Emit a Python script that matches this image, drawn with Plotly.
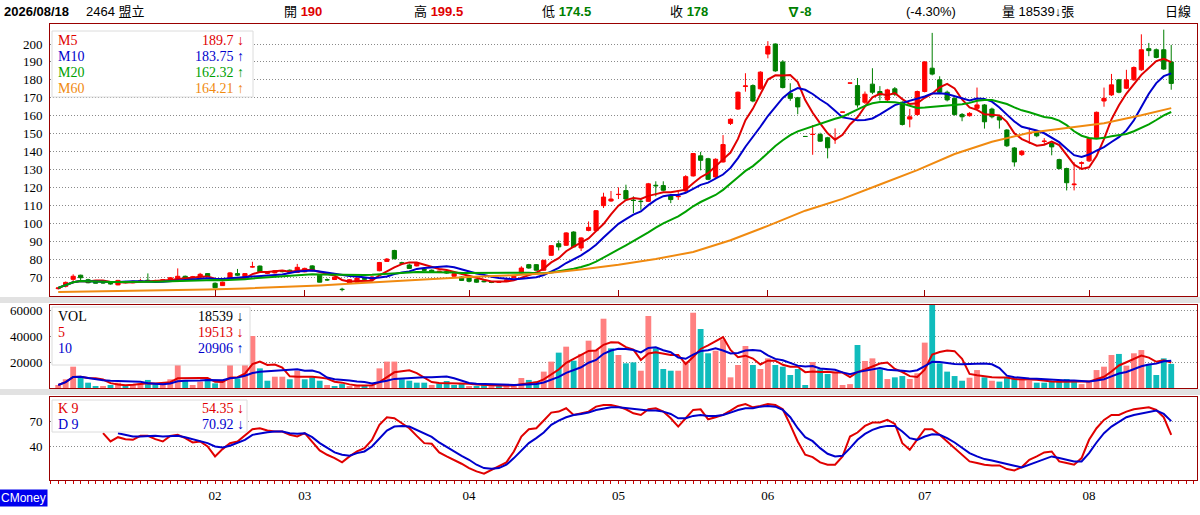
import pandas as pd
import plotly.graph_objects as go

# 2464 盟立 日線 2026/01/02 ~ 2026/08/18 (day index 0..149)
opens = [
    63.5, 64.8, 68.7, 71.0, 68.5, 67.0, 67.0, 66.5, 65.6, 67.5,
    66.8, 67.6, 68.2, 68.0, 68.2, 68.1, 69.0, 70.4, 69.5, 70.0,
    71.9, 66.5, 65.2, 69.6, 71.9, 70.0, 75.6, 76.1, 72.0, 72.3,
    73.3, 73.8, 72.5, 72.9, 76.2, 71.0, 68.5, 68.6, 63.2, 66.5,
    67.1, 69.2, 68.6, 73.5, 78.7, 84.8, 77.9, 76.7, 76.2, 74.2,
    73.8, 72.8, 73.0, 70.4, 70.0, 69.5, 68.6, 67.8, 67.3, 67.0,
    68.0, 69.6, 72.3, 76.9, 76.9, 73.8, 82.1, 88.6, 87.7, 95.1,
    86.2, 96.0, 95.9, 109.8, 112.4, 116.0, 118.2, 112.9, 112.3, 112.2,
    121.2, 121.0, 115.4, 114.8, 118.0, 126.4, 137.6, 136.0, 125.8, 134.2,
    155.7, 163.7, 176.3, 176.8, 175.0, 194.4, 200.0, 190.0, 172.5, 170.0,
    148.4, 149.5, 149.5, 147.7, 147.0, 162.0, 178.2, 176.8, 167.5, 177.6,
    173.5, 168.8, 175.0, 167.5, 158.1, 160.7, 173.5, 186.5, 180.0, 173.1,
    169.7, 160.7, 160.0, 164.1, 166.0, 163.7, 159.4, 152.0, 142.0, 138.3,
    150.0, 150.7, 145.6, 144.5, 135.5, 130.5, 121.5, 133.4, 134.8, 147.7,
    168.2, 171.6, 180.0, 175.3, 180.0, 185.6, 197.4, 196.8, 196.8, 190.0,
]
highs = [
    64.3, 67.5, 71.5, 71.3, 69.0, 67.8, 67.4, 66.8, 68.4, 67.8,
    68.0, 69.0, 72.0, 68.5, 68.6, 69.9, 74.8, 70.8, 70.6, 72.3,
    72.2, 67.0, 67.4, 72.8, 74.5, 72.2, 78.5, 76.4, 73.2, 73.8,
    73.9, 74.2, 77.3, 75.2, 76.6, 71.4, 69.2, 70.2, 64.0, 68.8,
    69.6, 69.8, 70.5, 78.4, 80.6, 85.2, 78.5, 77.5, 78.2, 74.8,
    74.2, 73.5, 73.4, 72.2, 70.4, 69.8, 68.9, 68.0, 67.6, 67.8,
    68.6, 70.8, 76.0, 77.3, 77.2, 79.6, 87.8, 90.4, 95.0, 95.5,
    92.2, 101.0, 107.3, 117.0, 118.0, 120.0, 121.5, 115.0, 114.0, 122.5,
    123.4, 123.4, 115.8, 117.8, 126.8, 139.2, 139.8, 136.5, 136.2, 149.2,
    158.5, 173.5, 183.7, 177.5, 184.8, 201.6, 200.3, 191.0, 178.1, 170.5,
    148.4, 154.8, 150.5, 148.2, 152.9, 162.0, 178.2, 181.0, 173.5, 186.5,
    176.5, 175.0, 176.0, 168.0, 163.8, 174.0, 190.5, 206.2, 182.0, 174.0,
    170.2, 161.5, 162.0, 175.7, 166.5, 164.5, 160.0, 152.5, 142.5, 140.8,
    153.3, 151.2, 147.5, 145.0, 136.0, 131.0, 134.0, 134.5, 147.8, 162.3,
    175.7, 183.3, 180.5, 185.6, 187.5, 205.4, 200.6, 197.5, 208.0, 199.5,
]
lows = [
    63.0, 64.2, 67.8, 67.8, 66.5, 66.6, 66.3, 65.8, 65.4, 66.5,
    66.5, 67.0, 67.5, 67.5, 67.8, 67.9, 68.8, 69.0, 69.3, 69.8,
    70.2, 63.8, 65.0, 69.3, 70.5, 69.8, 75.3, 72.5, 71.6, 72.0,
    72.6, 72.3, 72.3, 72.6, 73.2, 67.0, 67.8, 68.3, 62.0, 66.2,
    66.9, 68.4, 68.3, 73.2, 78.4, 79.8, 76.8, 74.6, 75.9, 73.4,
    72.6, 72.2, 71.8, 70.2, 67.9, 67.0, 66.8, 67.0, 66.6, 66.8,
    67.6, 69.4, 72.0, 74.6, 73.5, 73.5, 81.8, 84.8, 87.3, 86.5,
    84.5, 95.5, 95.5, 108.5, 112.0, 113.5, 113.2, 105.7, 107.5, 112.0,
    115.0, 117.8, 111.2, 113.0, 117.5, 126.0, 129.5, 124.0, 125.3, 133.8,
    154.8, 163.2, 173.4, 167.5, 174.5, 192.0, 184.5, 175.2, 168.3, 160.8,
    148.4, 138.2, 145.4, 136.2, 144.3, 162.0, 178.2, 164.5, 166.5, 172.0,
    168.5, 168.0, 171.0, 154.5, 153.5, 160.0, 173.0, 182.5, 172.5, 168.0,
    160.0, 156.9, 159.5, 163.5, 152.8, 158.5, 152.8, 142.5, 131.6, 137.5,
    144.3, 148.0, 144.0, 137.9, 130.0, 118.3, 118.3, 130.5, 134.2, 147.4,
    165.0, 171.0, 172.5, 174.8, 179.5, 185.0, 193.2, 192.0, 185.5, 174.5,
]
closes = [
    63.9, 67.0, 70.4, 69.6, 66.8, 66.6, 66.7, 66.2, 68.1, 66.8,
    67.6, 67.8, 67.8, 68.0, 68.4, 69.6, 70.4, 69.3, 70.1, 71.5,
    70.4, 64.0, 67.1, 72.3, 71.0, 71.9, 75.7, 72.9, 72.8, 73.5,
    73.0, 72.5, 75.4, 74.8, 73.5, 67.1, 68.4, 69.8, 63.0, 68.5,
    69.4, 68.8, 70.0, 78.1, 80.0, 80.2, 77.7, 74.8, 77.7, 73.8,
    72.8, 73.2, 72.2, 71.9, 68.1, 67.6, 67.1, 67.4, 67.0, 67.5,
    68.3, 70.4, 75.0, 75.0, 73.8, 79.3, 87.5, 86.8, 94.6, 86.8,
    91.8, 97.7, 107.0, 114.6, 113.5, 116.1, 113.5, 112.7, 112.1, 122.0,
    120.9, 118.4, 113.2, 115.1, 126.0, 138.9, 135.1, 124.5, 135.7, 143.9,
    158.0, 173.1, 176.6, 168.2, 184.3, 198.7, 185.0, 175.7, 169.7, 164.9,
    148.4, 149.6, 145.8, 142.1, 147.3, 162.0, 178.2, 166.0, 172.0, 173.1,
    171.6, 174.4, 172.0, 155.1, 159.4, 173.5, 190.0, 183.2, 173.1, 168.8,
    160.7, 159.4, 161.3, 166.0, 156.6, 159.4, 157.6, 143.2, 134.2, 140.2,
    150.1, 148.8, 145.8, 142.6, 130.5, 122.6, 121.8, 133.7, 147.3, 161.9,
    169.7, 177.2, 173.1, 180.0, 186.9, 196.8, 196.3, 192.5, 186.0, 178.0,
]
volumes = [
    2300, 6700, 16400, 9200, 4100, 1500, 1500, 2300, 4100, 1500,
    3000, 3600, 6200, 3000, 3000, 6700, 18500, 5600, 2300, 4900,
    7400, 3600, 4900, 18500, 7400, 20800, 40000, 15100, 5600, 8700,
    8700, 6700, 13300, 6700, 8200, 5600, 2300, 1500, 3000, 1500,
    1500, 2300, 2300, 15100, 20300, 20300, 6700, 5600, 4100, 4100,
    2300, 3600, 5400, 2300, 3600, 1500, 1000, 3000, 1500, 2300,
    1500, 1500, 7700, 6200, 4900, 12600, 20300, 27200, 31800, 21000,
    26200, 36400, 29200, 53300, 30500, 25400, 19000, 19700, 13300, 55400,
    30500, 14600, 13300, 13300, 20300, 57900, 45400, 26700, 28700, 37400,
    8200, 17700, 32300, 17700, 14600, 22800, 17700, 16400, 10000, 14600,
    2300, 20000, 14400, 10800, 11800, 2300, 3000, 33100, 20800, 22800,
    14400, 6900, 8200, 9200, 6900, 11300, 34900, 66000, 19000, 12600,
    9200, 5600, 7900, 13800, 8200, 5600, 4900, 8200, 7400, 6200,
    5600, 4100, 4100, 4900, 4900, 6900, 4900, 3000, 4900, 13800,
    16400, 25400, 26200, 17200, 26700, 29200, 17700, 10000, 22800, 18539,
]
# u = 量紅 (收盤高於前日), d = 量綠
vol_dir = ("uuudddudud" "uudduuuduu" "dduuduuddu" "ududdduddu" "uduuuudddd"
           "udddduddud" "uuudduudud" "uuuududduu" "ddduuudduu" "uuuduudddd"
           "dudduuuduu" "dudduuuddd" "dduududddu" "udddddduuu" "uuduuudddd")

# KD(9) 由圖讀取, None = 未顯示
k9 = [None] * 6 + [
    56.4, 46.4, 51.6, 49.2, 48.4, 53.2, 53.2, 49.2, 46.4, 53.2, 54.4, 50.4, 45.2, 46.4,
    40.4, 28.4, 37.2, 44.4, 46.4, 54.4, 61.2, 62.4, 59.6, 58.4, 58.4, 54.4, 52.4, 56.4,
    46.4, 35.6, 30.4, 26.4, 21.2, 28.4, 34.4, 38.4, 48.4, 66.4, 75.6, 74.4, 68.4, 62.4,
    53.2, 44.4, 43.6, 33.2, 28.4, 24.4, 19.6, 14.4, 10.4, 7.6, 12.4, 16.4, 21.2, 34.4,
    52.4, 61.2, 62.4, 71.6, 81.2, 82.4, 86.4, 78.4, 80.4, 82.4, 88.4, 90.4, 90.4, 88.4,
    85.2, 80.4, 78.4, 85.2, 86.4, 82.4, 74.4, 64.4, 74.4, 84.4, 85.2, 73.2, 75.6, 78.4,
    83.6, 89.2, 91.6, 87.6, 89.2, 91.6, 90.4, 85.2, 66.4, 46.4, 30.4, 27.6, 21.2, 18.4,
    18.4, 28.4, 52.4, 57.2, 65.2, 69.2, 69.2, 72.4, 67.6, 44.4, 36.4, 48.4, 61.2, 61.2,
    54.4, 46.4, 38.4, 29.2, 22.4, 20.4, 18.4, 17.6, 17.6, 13.2, 11.6, 15.6, 24.4, 28.4,
    33.2, 34.4, 22.4, 20.4, 18.4, 26.4, 48.4, 62.4, 72.4, 78.4, 78.4, 82.4, 85.2, 86.4,
    87.6, 84.4, 75.6, 54.35,
]
d9 = [None] * 8 + [
    56.4, 54.4, 52.4, 52.4, 53.2, 53.2, 52.4, 52.4, 53.2, 51.6, 49.2, 47.6, 44.4, 40.4,
    39.2, 41.2, 44.4, 48.4, 54.4, 56.4, 57.6, 58.4, 58.4, 56.4, 55.6, 56.4, 51.6, 44.4,
    38.4, 33.2, 30.4, 29.2, 32.4, 34.4, 40.4, 50.4, 59.6, 64.4, 65.2, 64.4, 60.4, 55.6,
    52.0, 45.2, 39.6, 34.4, 29.2, 24.4, 18.4, 14.4, 13.6, 14.4, 18.4, 26.4, 35.6, 44.4,
    50.4, 57.2, 66.4, 71.6, 75.6, 78.4, 79.6, 81.2, 84.4, 86.4, 87.6, 87.6, 86.4, 85.2,
    84.4, 83.6, 83.6, 82.4, 79.6, 74.4, 74.4, 77.2, 78.4, 77.2, 77.2, 78.4, 81.2, 84.4,
    86.4, 86.4, 88.4, 89.2, 88.4, 84.4, 75.6, 62.4, 51.6, 46.8, 38.4, 31.6, 28.4, 29.2,
    38.4, 48.4, 55.6, 60.4, 63.6, 65.2, 65.2, 58.4, 50.4, 48.4, 52.4, 55.2, 54.4, 50.4,
    45.2, 38.4, 32.4, 28.4, 25.2, 23.6, 21.2, 19.6, 17.2, 15.2, 18.4, 22.4, 25.2, 28.4,
    26.4, 24.4, 22.4, 22.4, 32.4, 45.2, 56.4, 64.4, 70.4, 75.6, 78.4, 80.4, 82.4, 83.6,
    79.6, 70.92,
]

# M60 由圖讀取 (每 5 日)
m60_days = [0, 5, 10, 15, 20, 25, 30, 35, 40, 45, 50, 55, 60, 65, 70, 75, 80, 85, 90, 95,
            100, 105, 110, 115, 120, 125, 130, 135, 140, 145, 149]
m60_vals = [61.7, 62.0, 62.2, 62.5, 63.0, 63.6, 64.3, 65.3, 66.5, 67.8, 69.0, 70.0, 70.8,
            72.0, 74.2, 76.8, 80.0, 84.0, 90.5, 98.5, 107.0, 113.6, 121.6, 129.6, 138.6,
            145.5, 150.5, 153.0, 155.8, 160.2, 164.21]

month_start = [21, 33, 55, 75, 95, 116, 138]
month_text = ["02", "03", "04", "05", "06", "07", "08"]

days = list(range(len(closes)))
df = pd.DataFrame({"c": closes, "v": volumes})
ma5 = df["c"].rolling(5, min_periods=1).mean()
ma10 = df["c"].rolling(10, min_periods=1).mean()
ma20 = df["c"].rolling(20, min_periods=1).mean()
vma5 = df["v"].rolling(5, min_periods=1).mean()
vma10 = df["v"].rolling(10, min_periods=1).mean()

RED, BLUE, GREEN, ORANGE = "#e00000", "#0000cc", "#00a000", "#f08a10"
FRAME = "#990000"
SERIF = "Liberation Serif"
SANS = "Liberation Sans, Noto Sans CJK TC"

fig = go.Figure()
fig.add_trace(go.Candlestick(
    x=days, open=opens, high=highs, low=lows, close=closes,
    increasing=dict(line=dict(color="#ff0000", width=1), fillcolor="#ff0000"),
    decreasing=dict(line=dict(color="#007f00", width=1), fillcolor="#007f00"),
    xaxis="x", yaxis="y"))
for ys, col in [(ma5, RED), (ma10, BLUE), (ma20, GREEN)]:
    fig.add_trace(go.Scatter(x=days, y=ys, mode="lines", line=dict(color=col, width=2),
                             xaxis="x", yaxis="y"))
fig.add_trace(go.Scatter(x=m60_days, y=m60_vals, mode="lines",
                         line=dict(color=ORANGE, width=2), xaxis="x", yaxis="y"))

bar_cols = ["#ff8080" if d == "u" else "#10bcbc" for d in vol_dir]
fig.add_trace(go.Bar(x=days, y=volumes, marker=dict(color=bar_cols, line=dict(width=0)),
                     width=0.78, xaxis="x2", yaxis="y2"))
fig.add_trace(go.Scatter(x=days, y=vma5, mode="lines", line=dict(color=RED, width=2),
                         xaxis="x2", yaxis="y2"))
fig.add_trace(go.Scatter(x=days, y=vma10, mode="lines", line=dict(color=BLUE, width=2),
                         xaxis="x2", yaxis="y2"))

fig.add_trace(go.Scatter(x=days, y=k9, mode="lines", line=dict(color=RED, width=2),
                         xaxis="x3", yaxis="y3"))
fig.add_trace(go.Scatter(x=days, y=d9, mode="lines", line=dict(color=BLUE, width=2),
                         xaxis="x3", yaxis="y3"))


# pixel -> paper helpers (plot area is x 50..1197, y 24..480)
def px(x):
    return (x - 50) / 1147


def py(y):
    return (480 - y) / 456


xr = [-1.1, 152.45]
xbase = dict(range=xr, showgrid=False, zeroline=False, showline=True, mirror=True,
             linecolor=FRAME, linewidth=1, fixedrange=True)
ybase = dict(showgrid=True, gridcolor="#8a8a8a", griddash="1px,2px", gridwidth=1,
             zeroline=False, showline=True, mirror=True, linecolor=FRAME, linewidth=1,
             ticks="", ticklabelstandoff=4, tickfont=dict(family=SERIF, size=13, color="black"))

fig.update_layout(
    width=1200, height=515, autosize=False,
    margin=dict(l=50, r=3, t=24, b=35),
    paper_bgcolor="white", plot_bgcolor="white",
    showlegend=False, hovermode=False, boxgap=0.2,
    xaxis=dict(xbase, anchor="y", domain=[0, 1], rangeslider=dict(visible=False),
               tickmode="array", tickvals=month_start, showticklabels=False,
               ticks="inside", ticklen=6, tickcolor=FRAME),
    xaxis2=dict(xbase, anchor="y2", domain=[0, 1], showticklabels=False),
    xaxis3=dict(xbase, anchor="y3", domain=[0, 1], tickmode="array",
                tickvals=month_start, ticktext=month_text, ticks="outside", ticklen=3,
                tickcolor="#cc0000", tickfont=dict(family=SERIF, size=13, color="black"),
                minor=dict(ticks="outside", ticklen=3, tick0=0, dtick=1, tickcolor="#cc0000")),
    yaxis=dict(ybase, anchor="x", domain=[py(296), 1], range=[59.4, 211.16],
               tickmode="array", tickvals=list(range(70, 201, 10))),
    yaxis2=dict(ybase, anchor="x2", domain=[py(388), py(305)], range=[0, 63846],
                tickmode="array", tickvals=[20000, 40000, 60000], tickformat="d"),
    yaxis3=dict(ybase, anchor="x3", domain=[0, py(397)], range=[0, 100],
                tickmode="array", tickvals=[40, 70]),
)

shapes = []
# gray separators between panels
for y0, y1 in [(297, 303), (389, 395)]:
    shapes.append(dict(type="rect", xref="paper", yref="paper", x0=px(0), x1=px(1200),
                       y0=py(y1), y1=py(y0), fillcolor="#e2e2e2", line=dict(width=0),
                       layer="below"))
# legend boxes
for x0, y0, x1, y1 in [(52, 31, 253, 97), (52, 307, 250, 365), (52, 400, 247, 432)]:
    shapes.append(dict(type="rect", xref="paper", yref="paper", x0=px(x0), x1=px(x1),
                       y0=py(y1), y1=py(y0), fillcolor="white",
                       line=dict(color="#dcdcdc", width=1), layer="above"))
fig.update_layout(shapes=shapes)

anns = []


def text(x, y, s, color="black", size=13, family=SANS, anchor="left", bg=None):
    d = dict(xref="paper", yref="paper", x=px(x), y=py(y), text=s, showarrow=False,
             xanchor=anchor, yanchor="middle", font=dict(family=family, size=size, color=color))
    if bg:
        d.update(bgcolor=bg, borderpad=1)
    anns.append(d)


HRED, HGREEN = "#e00000", "#008000"
text(2, 11, "<b>2026/08/18</b>")
text(84, 11, "2464 盟立")
text(282, 11, "開 <b><span style='color:%s'>190</span></b>" % HRED)
text(412, 11, "高 <b><span style='color:%s'>199.5</span></b>" % HRED)
text(540, 11, "低 <b><span style='color:%s'>174.5</span></b>" % HGREEN)
text(668, 11, "收 <b><span style='color:%s'>178</span></b>" % HGREEN)
text(785, 11, "<b>∇-8</b>", color=HGREEN)
text(904, 11, "(-4.30%)")
text(1000, 11, "量 18539↓張")
text(1163, 11, "日線")

# main legend
for y, lab, val, col in [(41, "M5", "189.7 ↓", RED), (57, "M10", "183.75 ↑", BLUE),
                         (72, "M20", "162.32 ↑", GREEN), (88, "M60", "164.21 ↑", ORANGE)]:
    text(56, y, lab, color=col, size=14, family=SERIF)
    text(246, y, val, color=col, size=14, family=SERIF, anchor="right")
# volume legend
for y, lab, val, col in [(316, "VOL", "18539 ↓", "black"), (332, "5", "19513 ↓", RED),
                         (348, "10", "20906 ↑", BLUE)]:
    text(56, y, lab, color=col, size=14, family=SERIF)
    text(246, y, val, color=col, size=14, family=SERIF, anchor="right")
# KD legend
for y, lab, val, col in [(408, "K 9", "54.35 ↓", RED), (424, "D 9", "70.92 ↓", BLUE)]:
    text(56, y, lab, color=col, size=14, family=SERIF)
    text(246, y, val, color=col, size=14, family=SERIF, anchor="right")

text(-1, 498, "CMoney", color="white", size=12, bg="#0000ee")
fig.update_layout(annotations=anns)

fig.write_html("out.html", config={"displayModeBar": False},
               post_script="document.body.style.margin='0';")
